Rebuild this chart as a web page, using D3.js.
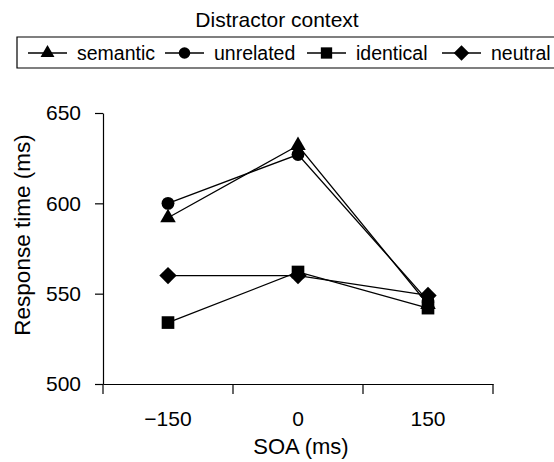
<!DOCTYPE html>
<html>
<head>
<meta charset="utf-8">
<script src="https://cdn.jsdelivr.net/npm/d3@7"></script>
<style>
  body { margin: 0; background: #fff; }
  svg { display: block; font-family: "Liberation Sans", Arial, sans-serif; }
</style>
</head>
<body>
<svg id="chart" width="554" height="462"></svg>
<script>
const categories = ["\u2212150", "0", "150"];
const seriesNames = ["semantic", "unrelated", "identical", "neutral"];
const semantic = [592, 632, 544];
const unrelated = [600, 627, 546];
const identical = [534, 562, 542];
const neutral = [560, 560, 549];
const yTicks = [500, 550, 600, 650];
const chartTitle = "Distractor context";
const xTitle = "SOA (ms)";
const yTitle = "Response time (ms)";

// rotated-square diamond symbol
const squareDiamond = {
  draw(ctx, size) {
    const r = Math.sqrt(size / 2);
    ctx.moveTo(0, -r); ctx.lineTo(r, 0); ctx.lineTo(0, r); ctx.lineTo(-r, 0); ctx.closePath();
  }
};

const series = [
  { name: seriesNames[0], values: semantic, symbol: d3.symbolTriangle, size: 105 },
  { name: seriesNames[1], values: unrelated, symbol: d3.symbolCircle, size: 130 },
  { name: seriesNames[2], values: identical, symbol: d3.symbolSquare, size: 160 },
  { name: seriesNames[3], values: neutral, symbol: squareDiamond, size: 150 }
];

const svg = d3.select("#chart");
const pLeft = 103, pRight = 493, pTop = 113, pBottom = 384;
const FONT = "Liberation Sans, Arial, sans-serif";

const x = d3.scaleBand().domain(categories).range([pLeft, pRight]).padding(0);
const y = d3.scaleLinear().domain([500, 650]).range([pBottom, pTop]);
const cx = c => x(c) + x.bandwidth() / 2;

// Y axis
const yAxis = svg.append("g")
  .attr("transform", `translate(${pLeft},0)`)
  .call(d3.axisLeft(y).tickValues(yTicks).tickSize(8).tickPadding(14).tickSizeOuter(0));
yAxis.select(".domain").attr("stroke", "#000").attr("stroke-width", 1.2);
yAxis.selectAll(".tick line").attr("stroke", "#000").attr("stroke-width", 1.2);
yAxis.selectAll(".tick text").attr("font-size", 21).attr("fill", "#000").attr("font-family", FONT);

// X axis
const xAxis = svg.append("g")
  .attr("transform", `translate(0,${pBottom})`)
  .call(d3.axisBottom(x).tickSize(0).tickPadding(27).tickSizeOuter(0));
xAxis.select(".domain").attr("stroke", "#000").attr("stroke-width", 1.2);
xAxis.selectAll(".tick text").attr("font-size", 21).attr("fill", "#000").attr("font-family", FONT);
const edges = categories.map(c => x(c)).concat([x(categories[categories.length - 1]) + x.bandwidth()]);
xAxis.selectAll(".edge").data(edges).join("line")
  .attr("x1", d => d).attr("x2", d => d)
  .attr("y1", 0).attr("y2", 10)
  .attr("stroke", "#000").attr("stroke-width", 1.2);

// Lines and markers
const line = d3.line().x((d, i) => cx(categories[i])).y(d => y(d));
series.forEach(s => {
  svg.append("path").datum(s.values)
    .attr("d", line).attr("fill", "none")
    .attr("stroke", "#000").attr("stroke-width", 1.3);
});
series.forEach(s => {
  svg.append("g").selectAll("path").data(s.values).join("path")
    .attr("transform", (d, i) => `translate(${cx(categories[i])},${y(d)})`)
    .attr("d", d3.symbol().type(s.symbol).size(s.size))
    .attr("fill", "#000");
});

// Axis titles
svg.append("text").attr("x", 301).attr("y", 454)
  .attr("text-anchor", "middle").attr("font-size", 22).attr("fill", "#000").text(xTitle);
svg.append("text").attr("transform", "translate(30,235) rotate(-90)")
  .attr("text-anchor", "middle").attr("font-size", 22.5).attr("fill", "#000").text(yTitle);

// Chart title
svg.append("text").attr("x", 277).attr("y", 27)
  .attr("text-anchor", "middle").attr("font-size", 21).attr("fill", "#000").text(chartTitle);

// Legend
const lg = svg.append("g");
lg.append("path").attr("d", "M554,37 H17 V68 H554")
  .attr("fill", "none").attr("stroke", "#000").attr("stroke-width", 1.2);
const legendX = [28, 165, 307, 442];
series.forEach((s, i) => {
  const g = lg.append("g").attr("transform", `translate(${legendX[i]},53)`);
  g.append("line").attr("x1", 0).attr("x2", 39).attr("y1", 0).attr("y2", 0)
    .attr("stroke", "#000").attr("stroke-width", 1.3);
  g.append("path").attr("transform", "translate(19.5,0)")
    .attr("d", d3.symbol().type(s.symbol).size(s.size * 0.8)).attr("fill", "#000");
  g.append("text").attr("x", 49).attr("y", 0).attr("dy", "0.35em")
    .attr("font-size", 19.5).attr("fill", "#000").text(s.name);
});
</script>
</body>
</html>
